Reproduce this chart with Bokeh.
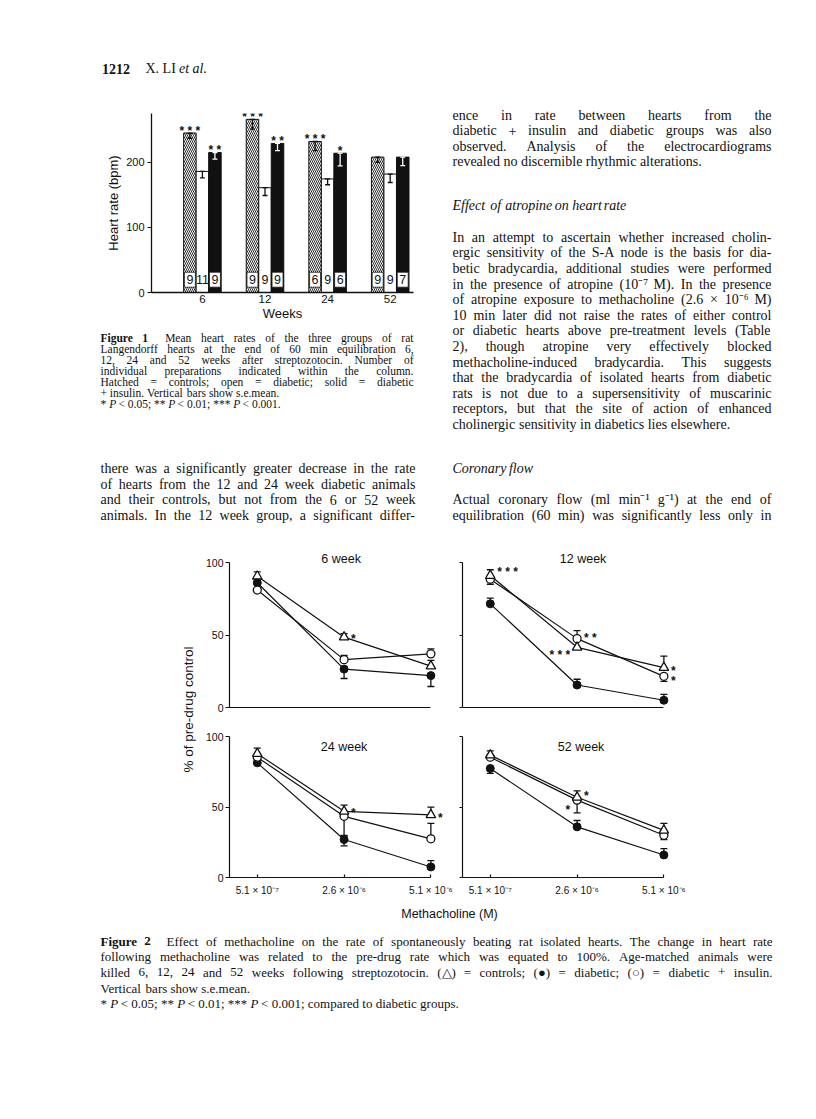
import re
import numpy as np
from bokeh.plotting import figure
from bokeh.layouts import column, row
from bokeh.models import Range1d, FixedTicker
from bokeh.core.properties import value
from bokeh.embed import file_html
from bokeh.resources import INLINE

SERIF = "Liberation Serif"
SANS = "Liberation Sans"
INK = "#111111"

# ---------------- Figure 1 data (heart rate, bpm) ----------------
WEEKS = ["6", "12", "24", "52"]
HR_CTRL = [245, 266, 232, 208]          # hatched = controls
HR_DIAB = [186, 161, 174.5, 182]        # open = diabetic
HR_DINS = [215, 229, 214, 208]          # solid = diabetic + insulin
HR_CTRL_SE = [8, 15, 14, 8]
HR_DIAB_SE = [10, 12, 9, 13]
HR_DINS_SE = [10, 11, 19.5, 13]
N_CTRL = ["9", "9", "6", "9"]
N_DIAB = ["11", "9", "9", "9"]
N_DINS = ["9", "9", "6", "7"]
SIG_CTRL = ["***", "***", "***", ""]
SIG_DINS = ["**", "**", "*", ""]

# ---------------- Figure 2 data (% of pre-drug control) ----------------
DOSES = ["5.1 \u00d7 10\u207b\u2077", "2.6 \u00d7 10\u207b\u2076", "5.1 \u00d7 10\u207b\u2076"]

W6_CTRL = [90.5, 48.5, 28.5]; W6_CTRL_UP = [3, 2.5, 4]; W6_CTRL_DN = [0, 0, 0]
W6_DINS = [81, 33, 37];       W6_DINS_UP = [0, 3, 3.5]; W6_DINS_DN = [0, 0, 0]
W6_DIAB = [86, 26.5, 22];     W6_DIAB_UP = [0, 0, 0];   W6_DIAB_DN = [0, 6.5, 7.5]
W6_SIG = [("ctrl", 1, "*")]

W12_CTRL = [91, 41.5, 27.5];  W12_CTRL_UP = [4, 0, 8];   W12_CTRL_DN = [0, 0, 0]
W12_DINS = [88.5, 47.5, 21.5]; W12_DINS_UP = [0, 5.5, 0]; W12_DINS_DN = [3.5, 0, 3.5]
W12_DIAB = [71.5, 15.5, 5];   W12_DIAB_UP = [4, 4, 4];   W12_DIAB_DN = [0, 0, 0]
W12_SIG = [("ctrl", 0, "***"), ("dins", 1, "**"), ("ctrl", 1, "***"), ("ctrl", 2, "*"), ("dins", 2, "*")]

W24_CTRL = [88, 47, 44.5];    W24_CTRL_UP = [4, 4.5, 5.5]; W24_CTRL_DN = [0, 0, 0]
W24_DINS = [85.5, 43.5, 27.5]; W24_DINS_UP = [0, 0, 11];  W24_DINS_DN = [0, 14, 0]
W24_DIAB = [81.5, 27, 7.5];   W24_DIAB_UP = [0, 3, 4.5];  W24_DIAB_DN = [0, 4.5, 0]
W24_SIG = [("ctrl", 1, "*"), ("ctrl", 2, "*")]

W52_CTRL = [87, 57, 33.5];    W52_CTRL_UP = [3, 4.5, 5];  W52_CTRL_DN = [0, 0, 0]
W52_DINS = [85.5, 55, 30];    W52_DINS_UP = [0, 0, 0];    W52_DINS_DN = [0, 9, 3]
W52_DIAB = [77.5, 36, 16];    W52_DIAB_UP = [0, 4.5, 4.5]; W52_DIAB_DN = [3.5, 0, 0]
W52_SIG = [("ctrl", 1, "*"), ("dins", 1, "*")]

# placement of significance marks (side, vertical px offset) - layout only
W6_SIG_POS = [("R", -2)]
W12_SIG_POS = [("R", -7), ("R", -4), ("L", 4), ("R", 0), ("R", 1)]
W24_SIG_POS = [("R", -2), ("R", 0)]
W52_SIG_POS = [("R", -5), ("L", 6)]

# ---------------- page text ----------------
RIGHT_COL_A = [
    ("ence in rate between hearts from the", True),
    ("diabetic + insulin and diabetic groups was also", True),
    ("observed. Analysis of the electrocardiograms", True),
    ("revealed no discernible rhythmic alterations.", False),
]
ATROPINE = [
    ("In an attempt to ascertain whether increased cholin-", True),
    ("ergic sensitivity of the S-A node is the basis for dia-", True),
    ("betic bradycardia, additional studies were performed", True),
    ("in the presence of atropine (10\u207b\u2077 M). In the presence", True),
    ("of atropine exposure to methacholine (2.6 \u00d7 10\u207b\u2076 M)", True),
    ("10\u2009min later did not raise the rates of either control", True),
    ("or diabetic hearts above pre-treatment levels (Table", True),
    ("2), though atropine very effectively blocked", True),
    ("methacholine-induced bradycardia. This suggests", True),
    ("that the bradycardia of isolated hearts from diabetic", True),
    ("rats is not due to a supersensitivity of muscarinic", True),
    ("receptors, but that the site of action of enhanced", True),
    ("cholinergic sensitivity in diabetics lies elsewhere.", False),
]
LEFT_COL_B = [
    ("there was a significantly greater decrease in the rate", True),
    ("of hearts from the 12 and 24 week diabetic animals", True),
    ("and their controls, but not from the 6 or 52 week", True),
    ("animals. In the 12 week group, a significant differ-", True),
]
RIGHT_COL_B = [
    ("Actual coronary flow (ml\u2009min\u207b\u00b9\u2009g\u207b\u00b9) at the end of", True),
    ("equilibration (60\u2009min) was significantly less only in", True),
]
CAPTION_1 = [
    ("{b:Figure 1} Mean heart rates of the three groups of rat", True),
    ("Langendorff hearts at the end of 60\u2009min equilibration 6,", True),
    ("12, 24 and 52 weeks after streptozotocin. Number of", True),
    ("individual preparations indicated within the column.", True),
    ("Hatched = controls; open = diabetic; solid = diabetic", True),
    ("+ insulin. Vertical bars show s.e.mean.", False),
    ("* {i:P} < 0.05; ** {i:P} < 0.01; *** {i:P} < 0.001.", False),
]
CAPTION_2 = [
    ("{b:Figure 2} Effect of methacholine on the rate of spontaneously beating rat isolated hearts. The change in heart rate", True),
    ("following methacholine was related to the pre-drug rate which was equated to 100%. Age-matched animals were", True),
    ("killed 6, 12, 24 and 52 weeks following streptozotocin. (\u25b3) = controls; (\u25cf) = diabetic; (\u25cb) = diabetic + insulin.", True),
    ("Vertical bars show s.e.mean.", False),
    ("* {i:P} < 0.05; ** {i:P} < 0.01; *** {i:P} < 0.001; compared to diabetic groups.", False),
]

# ---------------- text helpers ----------------
TW = {' ': 250, 'a': 444, 'b': 500, 'c': 444, 'd': 500, 'e': 444, 'f': 333, 'g': 500, 'h': 500,
      'i': 278, 'j': 278, 'k': 500, 'l': 278, 'm': 778, 'n': 500, 'o': 500, 'p': 500, 'q': 500,
      'r': 333, 's': 389, 't': 278, 'u': 500, 'v': 500, 'w': 722, 'x': 500, 'y': 500, 'z': 444,
      'A': 722, 'B': 667, 'C': 667, 'D': 722, 'E': 611, 'F': 556, 'G': 722, 'H': 722, 'I': 333,
      'J': 389, 'K': 722, 'L': 611, 'M': 889, 'N': 722, 'O': 722, 'P': 556, 'Q': 722, 'R': 667,
      'S': 556, 'T': 611, 'U': 722, 'V': 722, 'W': 944, 'X': 722, 'Y': 722, 'Z': 611,
      '.': 250, ',': 250, ';': 278, ':': 278, '-': 333, '(': 333, ')': 333, '+': 564, '=': 564,
      '<': 564, '>': 564, '%': 833, '*': 500, '\u00d7': 564, '\u207b': 333, '\u00b9': 300,
      '\u2076': 300, '\u2077': 300, '\u2009': 167, '\u25b3': 720, '\u25cf': 600, '\u25cb': 600}
for d in "0123456789":
    TW[d] = 500


def tw(word, size, bold=False):
    w = sum(TW.get(c, 500) for c in word) * size / 1000.0
    return w * (1.07 if bold else 1.0)


def parse(line):
    out, pos = [], 0
    for m in re.finditer(r"\{([bi]):([^}]*)\}", line):
        out += [(w, "n") for w in line[pos:m.start()].split()]
        out += [(w, m.group(1)) for w in m.group(2).split()]
        pos = m.end()
    out += [(w, "n") for w in line[pos:].split()]
    return out


def draw_block(p, lines, ys, x0, x1, size, font=SERIF, force_style=None):
    ylo, yhi = sorted((p.y_range.start, p.y_range.end))
    groups = {"n": ([], [], []), "b": ([], [], []), "i": ([], [], [])}
    for (markup, just), y in zip(lines, ys):
        if not (ylo <= y <= yhi):
            continue
        toks = parse(markup)
        if force_style:
            toks = [(t, force_style) for t, _ in toks]
        widths = [tw(t, size, s == "b") for t, s in toks]
        extras = [(0.6 * size if (s == "b" and i + 1 < len(toks) and toks[i + 1][1] != "b") else 0)
                  for i, (t, s) in enumerate(toks)]
        n = len(toks)
        gap = 0.25 * size
        if just and n > 1:
            gap = (x1 - x0 - sum(widths) - sum(extras)) / (n - 1)
        x = x0
        for (t, s), wd, ex in zip(toks, widths, extras):
            g = groups[s]
            g[0].append(x); g[1].append(y); g[2].append(t)
            x += wd + gap + ex
    styles = {"n": "normal", "b": "bold", "i": "italic"}
    for s, (xs, yy, ts) in groups.items():
        if xs:
            p.text(x=xs, y=yy, text=ts, text_font=value(font), text_font_size=f"{size:g}px",
                   text_font_style=styles[s], text_baseline="middle", text_align="left",
                   text_color=INK)


def text_fig(x0, y0, w, h):
    p = figure(width=w, height=h, x_range=Range1d(x0, x0 + w), y_range=Range1d(y0 + h, y0),
               output_backend="svg", toolbar_location=None, x_axis_location=None,
               y_axis_location=None, min_border=0, outline_line_color=None,
               background_fill_color="white", border_fill_color="white")
    p.xgrid.visible = False
    p.ygrid.visible = False
    return p


def ys_from(start, step, n):
    return [start + step * k for k in range(n)]


PAGE_W = 815

# ---------------- header ----------------
header = text_fig(0, 0, PAGE_W, 100)
header.text(x=[101.5], y=[68.3], text=["1212"], text_font=value(SERIF), text_font_size="14px",
            text_font_style="bold", text_baseline="middle", text_color=INK)
header.text(x=[145], y=[68.3], text=["X. LI"], text_font=value(SERIF), text_font_size="14px",
            text_baseline="middle", text_color=INK)
header.text(x=[178.5], y=[68.3], text=["et al."], text_font=value(SERIF), text_font_size="14px",
            text_font_style="italic", text_baseline="middle", text_color=INK)

# ---------------- Figure 1 ----------------
F1_PPU = 179 / 275.0
p1 = figure(width=440, height=224, x_range=Range1d(-0.813, 3.372), y_range=Range1d(0, 275),
            min_border_left=151, min_border_right=27, min_border_top=13, min_border_bottom=32,
            output_backend="svg", toolbar_location=None, background_fill_color="white",
            border_fill_color="white")
p1.outline_line_color = None
p1.xgrid.visible = False
p1.ygrid.visible = False
gx = np.arange(len(WEEKS))
BW = 0.2
p1.vbar(x=gx - BW, top=HR_CTRL, width=BW, fill_color="white", line_color=INK, line_width=1,
        hatch_pattern="left_diagonal_line", hatch_color=INK, hatch_scale=4, hatch_weight=0.9)
p1.vbar(x=gx, top=HR_DIAB, width=BW, fill_color="white", line_color=INK, line_width=1)
p1.vbar(x=gx + BW, top=HR_DINS, width=BW, fill_color=INK, line_color=INK, line_width=1)

for off, tops, se, col in [(-BW, HR_CTRL, HR_CTRL_SE, INK), (0, HR_DIAB, HR_DIAB_SE, INK),
                           (BW, HR_DINS, HR_DINS_SE, "white")]:
    xs = gx + off
    lo = [t - s for t, s in zip(tops, se)]
    p1.segment(x0=xs, y0=lo, x1=xs, y1=tops, line_color=col, line_width=1.3)
    p1.scatter(x=np.concatenate([xs, xs]), y=lo + list(tops), marker="dash", size=5,
               line_color=col, line_width=1.3)

LABEL_Y = 12.8 / F1_PPU
for off in (-BW, BW):
    p1.rect(x=gx + off, y=[LABEL_Y] * len(WEEKS), width=11, height=15, width_units="screen",
            height_units="screen", fill_color="white", line_color=INK, line_width=0.8)
p1.text(x=np.concatenate([gx - BW, gx, gx + BW]), y=[LABEL_Y] * (3 * len(WEEKS)),
        text=N_CTRL + N_DIAB + N_DINS, text_font=value(SANS), text_font_size="12.5px",
        text_align="center", text_baseline="middle", text_color=INK)
p1.text(x=np.concatenate([gx - BW, gx + BW]), y=list(HR_CTRL) + list(HR_DINS),
        text=[" ".join(s) for s in SIG_CTRL + SIG_DINS], text_font=value(SANS),
        text_font_size="12px", text_font_style="bold", text_align="center",
        text_baseline="middle", y_offset=-2.5, text_color=INK)

ya1 = p1.yaxis[0]
ya1.ticker = FixedTicker(ticks=[0, 100, 200])
ya1.axis_label = "Heart rate (bpm)"
ya1.axis_label_text_font = SANS
ya1.axis_label_text_font_size = "13px"
ya1.axis_label_text_font_style = "normal"
ya1.axis_label_standoff = 2
ya1.major_label_text_font = SANS
ya1.major_label_text_font_size = "11px"
ya1.major_label_standoff = 3
ya1.major_tick_out = 4
ya1.major_tick_in = 0
ya1.minor_tick_line_color = None
for ax in (ya1, p1.xaxis[0]):
    ax.axis_line_width = 1.3
    ax.axis_line_color = INK
    ax.major_tick_line_color = INK
    ax.major_tick_line_width = 1.2
    ax.major_label_text_color = INK
    ax.axis_label_text_color = INK
xa1 = p1.xaxis[0]
xa1.ticker = FixedTicker(ticks=list(gx))
xa1.major_label_overrides = {int(i): w for i, w in zip(gx, WEEKS)}
xa1.major_label_text_font = SANS
xa1.major_label_text_font_size = "11.5px"
xa1.major_label_standoff = 2
xa1.major_tick_out = 0
xa1.major_tick_in = 0
xa1.minor_tick_line_color = None
xa1.axis_label = "Weeks"
xa1.axis_label_text_font = SANS
xa1.axis_label_text_font_size = "13px"
xa1.axis_label_text_font_style = "normal"
xa1.axis_label_standoff = 0

ATRO_YS = ys_from(236.7, 15.6, len(ATROPINE))

textA1 = text_fig(440, 100, PAGE_W - 440, 224)
textA2 = text_fig(440, 324, PAGE_W - 440, 116)
for tfig in (textA1, textA2):
    draw_block(tfig, RIGHT_COL_A, ys_from(115, 15.3, len(RIGHT_COL_A)), 452, 771, 14)
    draw_block(tfig, [("Effect of atropine on heart rate", False)], [205], 452, 771, 14,
               force_style="i")
    draw_block(tfig, ATROPINE, ATRO_YS, 452, 771, 14)

cap1 = text_fig(0, 324, 440, 116)
draw_block(cap1, CAPTION_1, ys_from(337, 11.1, len(CAPTION_1)), 100, 413, 11.5)

textB = text_fig(0, 440, PAGE_W, 105)
draw_block(textB, LEFT_COL_B, ys_from(468.3, 15.5, len(LEFT_COL_B)), 100, 415, 14)
draw_block(textB, [("Coronary flow", False)], [468.3], 452, 771, 14, force_style="i")
draw_block(textB, RIGHT_COL_B, ys_from(499.3, 15.5, len(RIGHT_COL_B)), 452, 771, 14)

# ---------------- Figure 2 panels ----------------
X0 = -0.32
SX = 86.8


def panel(title, series, sigs, sig_pos, w, h, mb_l, mb_r, mb_b, ppu, left, bottom, title_y, title_dx):
    fw = w - mb_l - mb_r
    fh = h - mb_b
    p = figure(width=w, height=h, x_range=Range1d(X0, X0 + fw / SX), y_range=Range1d(0, fh / ppu),
               min_border_left=mb_l, min_border_right=mb_r, min_border_top=0,
               min_border_bottom=mb_b, output_backend="svg", toolbar_location=None,
               background_fill_color="white", border_fill_color="white")
    p.outline_line_color = None
    p.xgrid.visible = False
    p.ygrid.visible = False
    xs = list(range(len(DOSES)))
    for name in ("diab", "dins", "ctrl"):
        vals = series[name][0]
        p.line(xs, vals, line_color=INK, line_width=1.2)
    for name in ("diab", "dins", "ctrl"):
        vals, up, dn = series[name]
        hi = [v + u for v, u in zip(vals, up)]
        lo = [v - d for v, d in zip(vals, dn)]
        p.segment(x0=xs, y0=lo, x1=xs, y1=hi, line_color=INK, line_width=1.3)
        cx = [x for x, u in zip(xs, up) if u > 0] + [x for x, d in zip(xs, dn) if d > 0]
        cy = [y for y, u in zip(hi, up) if u > 0] + [y for y, d in zip(lo, dn) if d > 0]
        if cx:
            p.scatter(x=cx, y=cy, marker="dash", size=7, line_color=INK, line_width=1.3)
    p.scatter(xs, series["diab"][0], marker="circle", size=8, fill_color=INK, line_color=INK)
    p.scatter(xs, series["dins"][0], marker="circle", size=8, fill_color="white", line_color=INK,
              line_width=1.3)
    p.scatter(xs, series["ctrl"][0], marker="triangle", size=9.5, fill_color="white",
              line_color=INK, line_width=1.3)
    p.text(x=[1], y=[title_y], text=[title], x_offset=title_dx, text_font=value(SANS),
           text_font_size="12.5px", text_align="center", text_baseline="middle", text_color=INK)
    for (s, i, txt), (side, dy) in zip(sigs, sig_pos):
        v = series[s][0][i]
        p.text(x=[i], y=[v], text=[" ".join(txt)], x_offset=(7 if side == "R" else -7),
               y_offset=dy + 3.5, text_align=("left" if side == "R" else "right"),
               text_baseline="middle", text_font=value(SANS), text_font_size="12px",
               text_font_style="bold", text_color=INK)
    ya = p.yaxis[0]
    xa = p.xaxis[0]
    for ax in (ya, xa):
        ax.axis_line_width = 1.2
        ax.axis_line_color = INK
        ax.major_tick_line_color = INK
        ax.major_tick_line_width = 1.2
        ax.minor_tick_line_color = None
        ax.major_label_text_color = INK
        ax.major_label_text_font = SANS
    ya.ticker = FixedTicker(ticks=[0, 50, 100])
    ya.bounds = (0, 100)
    ya.major_tick_in = 0
    if left:
        ya.major_tick_out = 4
        ya.major_label_text_font_size = "10.5px"
        ya.major_label_standoff = 2
    else:
        ya.major_tick_out = 3
        ya.major_label_text_font_size = "0px"
        ya.major_label_standoff = 0
    xa.ticker = FixedTicker(ticks=xs)
    xa.bounds = (X0, 2)
    if bottom:
        xa.major_label_overrides = {i: d for i, d in zip(xs, DOSES)}
        xa.major_label_text_font_size = "10px"
        xa.major_label_standoff = 7
        xa.major_tick_in = 3
        xa.major_tick_out = 0
    else:
        xa.major_label_text_font_size = "0px"
        xa.major_label_standoff = 0
        xa.major_tick_in = 0
        xa.major_tick_out = 0
        xa.major_tick_line_color = None
    return p


def ser(c, cu, cd, o, ou, od, f, fu, fd):
    return {"ctrl": (c, cu, cd), "dins": (o, ou, od), "diab": (f, fu, fd)}


RW = PAGE_W - 459
tl = panel("6 week", ser(W6_CTRL, W6_CTRL_UP, W6_CTRL_DN, W6_DINS, W6_DINS_UP, W6_DINS_DN,
                         W6_DIAB, W6_DIAB_UP, W6_DIAB_DN), W6_SIG, W6_SIG_POS,
           259, 175, 29, 4, 13, 1.45, True, False, 102.3, -3)
tr = panel("12 week", ser(W12_CTRL, W12_CTRL_UP, W12_CTRL_DN, W12_DINS, W12_DINS_UP, W12_DINS_DN,
                          W12_DIAB, W12_DIAB_UP, W12_DIAB_DN), W12_SIG, W12_SIG_POS,
           RW, 175, 3, RW - 231, 13, 1.45, False, False, 102.3, 6)
bl = panel("24 week", ser(W24_CTRL, W24_CTRL_UP, W24_CTRL_DN, W24_DINS, W24_DINS_UP, W24_DINS_DN,
                          W24_DIAB, W24_DIAB_UP, W24_DIAB_DN), W24_SIG, W24_SIG_POS,
           259, 183, 29, 4, 26, 1.407, True, True, 92.5, 0)
br = panel("52 week", ser(W52_CTRL, W52_CTRL_UP, W52_CTRL_DN, W52_DINS, W52_DINS_UP, W52_DINS_DN,
                          W52_DIAB, W52_DIAB_UP, W52_DIAB_DN), W52_SIG, W52_SIG_POS,
           RW, 183, 3, RW - 231, 26, 1.407, False, True, 92.5, 4)

lm = text_fig(0, 545, 200, 358)
lm.text(x=[188], y=[709], text=["% of pre-drug control"], angle=np.pi / 2, text_font=value(SANS),
        text_font_size="13.5px", text_align="center", text_baseline="middle", text_color=INK)

capD = text_fig(0, 903, PAGE_W, 215)
capD.text(x=[449], y=[913.5], text=["Methacholine (M)"], text_font=value(SANS),
          text_font_size="12.5px", text_align="center", text_baseline="middle", text_color=INK)
draw_block(capD, CAPTION_2, ys_from(940.5, 15.7, len(CAPTION_2)), 100, 772, 13)

layout = column(
    header,
    row(column(p1), column(textA1), spacing=0),
    row(cap1, textA2, spacing=0),
    textB,
    row(lm, column(tl, bl, spacing=0), column(tr, br, spacing=0), spacing=0),
    capD,
    spacing=0,
)

open("out.html", "w").write(file_html(layout, INLINE))
